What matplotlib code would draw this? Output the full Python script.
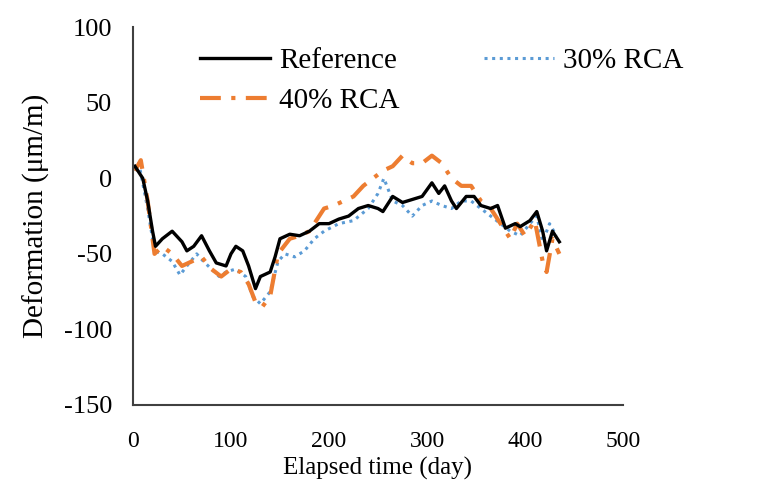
import matplotlib
matplotlib.use("Agg")
import matplotlib.pyplot as plt

plt.rcParams['font.family'] = ['Liberation Serif', 'DejaVu Serif']
plt.rcParams['axes.unicode_minus'] = False

ref_days = [2, 5, 10, 15, 20, 23, 30, 40, 50, 55, 62, 70, 78, 85, 95, 100, 105, 112, 118, 125,
            130, 140, 145, 150, 160, 170, 180, 190, 200, 210, 220, 230, 240, 250, 255, 265, 275,
            285, 295, 305, 312, 318, 325, 330, 340, 348, 355, 365, 372, 380, 390, 395, 405, 412,
            418, 422, 428, 435]
ref_vals = [8, 5, 0, -15, -35, -45, -40, -35, -42, -48, -45, -38, -48, -56, -58, -50, -45, -48,
            -58, -73, -65, -62, -52, -40, -37, -38, -35, -30, -30, -27, -25, -20, -18, -20, -22,
            -12, -16, -14, -12, -3, -10, -5, -15, -20, -12, -12, -18, -20, -18, -33, -30, -32,
            -28, -22, -35, -48, -35, -42]

rca30_days = [2, 6, 15, 22, 30, 40, 48, 55, 65, 72, 80, 88, 95, 105, 115, 122, 130, 140, 148,
              155, 165, 175, 185, 195, 210, 225, 240, 250, 256, 265, 275, 285, 295, 305, 315,
              325, 335, 345, 355, 365, 375, 385, 395, 405, 412, 418, 425, 432]
rca30_vals = [5, 10, -20, -48, -50, -55, -64, -58, -50, -55, -60, -65, -62, -60, -65, -78, -83,
              -75, -55, -50, -52, -48, -40, -35, -30, -28, -20, -10, 0, -15, -18, -25, -18, -15,
              -18, -20, -15, -15, -20, -25, -30, -35, -38, -30, -25, -42, -30, -38]

rca40_days = [2, 8, 15, 22, 30, 40, 50, 60, 70, 80, 90, 100, 110, 118, 125, 132, 140, 148, 160,
              170, 180, 195, 205, 215, 225, 235, 245, 255, 265, 275, 285, 295, 305, 315, 325,
              335, 345, 355, 365, 375, 385, 392, 400, 410, 418, 422, 428, 435]
rca40_vals = [5, 12, -15, -50, -45, -50, -58, -55, -52, -60, -65, -60, -62, -70, -82, -85, -78,
              -50, -40, -38, -35, -20, -18, -15, -12, -5, 0, 5, 8, 15, 10, 10, 15, 10, 0, -5, -5,
              -15, -20, -30, -40, -30, -38, -28, -55, -62, -40, -50]

x_ticks = [0, 100, 200, 300, 400, 500]
y_ticks = [-150, -100, -50, 0, 50, 100]

fig = plt.figure(figsize=(7.73, 4.9), dpi=100)
ax = fig.add_axes([0.172, 0.1735, 0.634, 0.771])

l30, = ax.plot(rca30_days, rca30_vals, color='#5B9BD5', lw=2.2,
               linestyle=(0, (1, 1.5)), label='30% RCA')
l40, = ax.plot(rca40_days, rca40_vals, color='#ED7D31', lw=3.0,
               linestyle=(0, (5, 2.5, 1, 2.5)), label='40% RCA')
lref, = ax.plot(ref_days, ref_vals, color='black', lw=2.4, label='Reference')

ax.set_xlim(0, 500)
ax.set_ylim(-150, 100)
ax.set_xticks(x_ticks)
ax.set_yticks(y_ticks)
ax.tick_params(length=0)
ax.tick_params(axis='x', pad=19, labelsize=17)
ax.tick_params(axis='y', pad=15, labelsize=19)
for s in ['top', 'right']:
    ax.spines[s].set_visible(False)
for s in ['left', 'bottom']:
    ax.spines[s].set_color('#404040')
    ax.spines[s].set_linewidth(1.5)

ax.set_xlabel('Elapsed time (day)', fontsize=18, labelpad=3)
ax.set_ylabel('Deformation (μm/m)', fontsize=21, labelpad=10)

fig.legend([lref, l40, l30], ['Reference', '40% RCA', '30% RCA'],
           ncol=2, frameon=False, fontsize=21, loc='upper left',
           bbox_to_anchor=(200 / 773, 1 - 48 / 490), borderpad=0, borderaxespad=0,
           handlelength=2.4, columnspacing=2.9, labelspacing=0.45, handletextpad=0.3)

fig.savefig('out.png', dpi=100)
